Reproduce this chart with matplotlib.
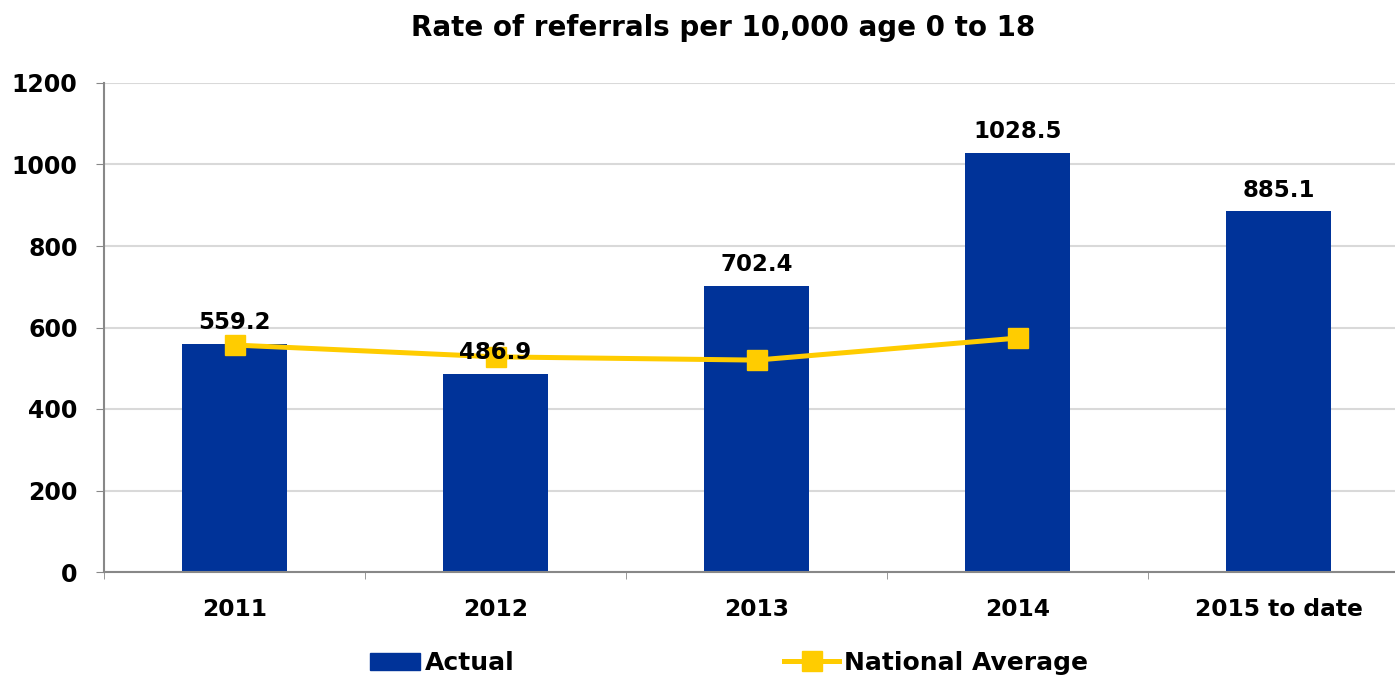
"""Rate of referrals per 10,000 age 0 to 18: bars with national average line."""

import matplotlib

matplotlib.use("Agg")
import matplotlib.pyplot as plt
import numpy as np
from matplotlib.lines import Line2D
from matplotlib.patches import Patch

CATEGORIES = ["2011", "2012", "2013", "2014", "2015 to date"]
ACTUAL = [559.2, 486.9, 702.4, 1028.5, 885.1]
NATIONAL_AVERAGE = [557, 528, 520, 574]
Y_TICKS = [0, 200, 400, 600, 800, 1000, 1200]

BAR_COLOR = "#003399"
LINE_COLOR = "#FFCC00"


def main() -> None:
    plt.rcParams["font.family"] = "DejaVu Sans"
    fig = plt.figure(figsize=(13.95, 6.76), dpi=100)
    ax = fig.add_axes([104 / 1395, 104 / 676, 1305 / 1395, 489 / 676])

    x = np.arange(len(CATEGORIES))
    ax.bar(x, ACTUAL, width=0.4, color=BAR_COLOR, zorder=2)
    ax.plot(
        x[: len(NATIONAL_AVERAGE)],
        NATIONAL_AVERAGE,
        color=LINE_COLOR,
        lw=3.6,
        marker="s",
        markersize=14,
        zorder=3,
    )
    for xi, val in zip(x, ACTUAL):
        ax.annotate(
            f"{val:.1f}",
            (xi, val),
            xytext=(0, 7),
            textcoords="offset points",
            ha="center",
            va="bottom",
            fontsize=16.5,
            fontweight="bold",
            zorder=4,
        )

    ax.set_xlim(-0.5, len(CATEGORIES) - 0.5)
    ax.set_ylim(0, 1200)
    ax.set_yticks(Y_TICKS)
    ax.set_yticklabels([str(t) for t in Y_TICKS], fontsize=17, fontweight="bold")
    ax.set_xticks(x)
    ax.set_xticklabels(CATEGORIES, fontsize=16.8, fontweight="bold")
    ax.set_xticks(np.arange(-0.5, len(CATEGORIES)), minor=True)
    ax.tick_params(axis="x", which="major", length=0, pad=19)
    ax.tick_params(axis="x", which="minor", length=5, color="#888888", direction="out")
    ax.tick_params(axis="y", length=6, color="#888888", pad=13)

    ax.grid(axis="y", color="#D9D9D9", lw=1.5, zorder=0)
    ax.set_axisbelow(True)
    for side in ("top", "right"):
        ax.spines[side].set_visible(False)
    for side in ("left", "bottom"):
        ax.spines[side].set_color("#888888")
        ax.spines[side].set_linewidth(1.5)

    fig.text(
        723 / 1395,
        1 - 28 / 676,
        "Rate of referrals per 10,000 age 0 to 18",
        ha="center",
        va="center",
        fontsize=20,
        fontweight="bold",
    )

    legend_items = [
        (Patch(color=BAR_COLOR), "Actual", 370, 2.0),
        (
            Line2D([], [], color=LINE_COLOR, lw=3.6, marker="s", markersize=14),
            "National Average",
            784,
            2.2,
        ),
    ]
    for handle, label, left_px, handle_len in legend_items:
        fig.legend(
            [handle],
            [label],
            loc="center left",
            bbox_to_anchor=(left_px / 1395, 13 / 676),
            frameon=False,
            prop={"size": 18, "weight": "bold"},
            handlelength=handle_len,
            handletextpad=0.2,
            borderpad=0,
            borderaxespad=0,
        )

    fig.savefig("out.png", dpi=100)


if __name__ == "__main__":
    main()
